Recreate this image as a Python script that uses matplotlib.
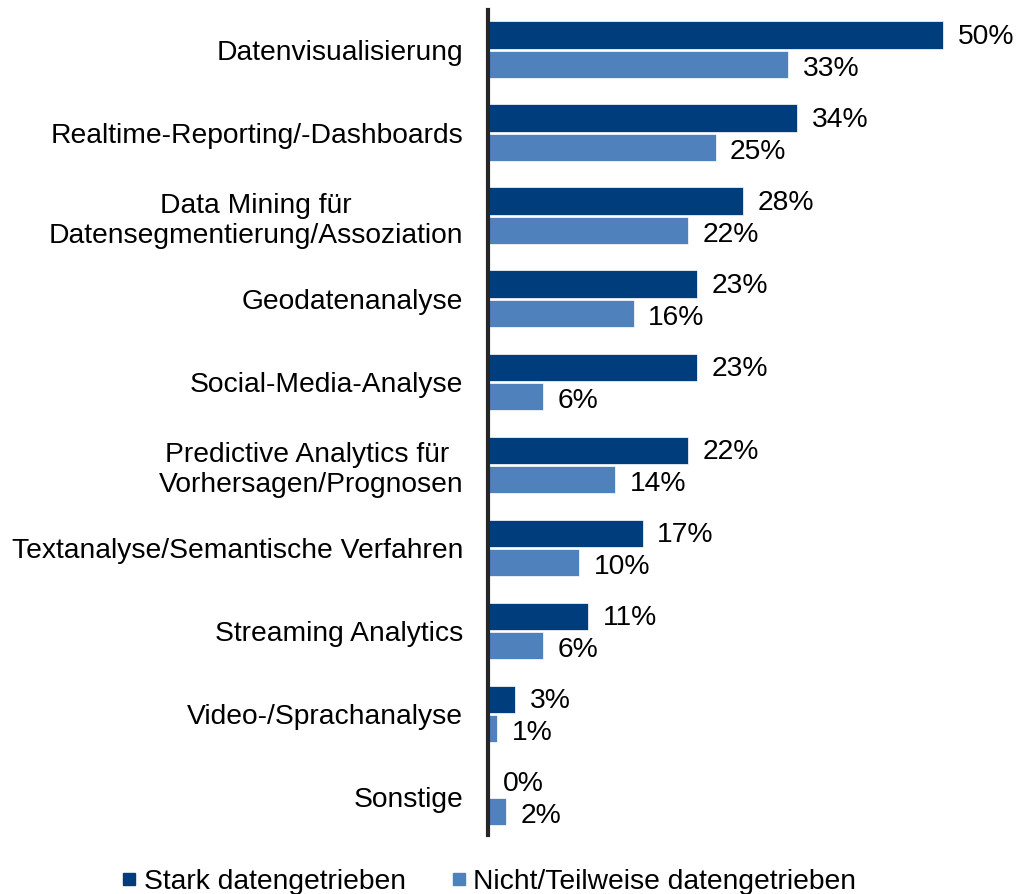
#!/usr/bin/env python3
"""
Analytics-Methoden: stark vs. nicht/teilweise datengetriebene Unternehmen
"""

import matplotlib
matplotlib.use('Agg')
import matplotlib.pyplot as plt
from matplotlib.lines import Line2D
import numpy as np

plt.rcParams['font.family'] = ['Liberation Sans', 'DejaVu Sans']

# Daten
kategorien = [
    'Datenvisualisierung',
    'Realtime-Reporting/-Dashboards',
    'Data Mining für\nDatensegmentierung/Assoziation',
    'Geodatenanalyse',
    'Social-Media-Analyse',
    'Predictive Analytics für \nVorhersagen/Prognosen',
    'Textanalyse/Semantische Verfahren',
    'Streaming Analytics',
    'Video-/Sprachanalyse',
    'Sonstige',
]
stark = [50, 34, 28, 23, 23, 22, 17, 11, 3, 0]
nicht_teilweise = [33, 25, 22, 16, 6, 14, 10, 6, 1, 2]
serien_namen = ['Stark datengetrieben', 'Nicht/Teilweise datengetrieben']

farbe_stark = '#003d7c'
farbe_nicht = '#4f81bd'

fig = plt.figure(figsize=(10.21, 8.94), dpi=100)
ax = fig.add_axes([0.478, 0.066, 0.517, 0.923])

y = np.arange(len(kategorien))
h = 0.33
off = 0.175

ax.barh(y - off, stark, height=h, color=farbe_stark, edgecolor='white', linewidth=0.5)
ax.barh(y + off, nicht_teilweise, height=h, color=farbe_nicht, edgecolor='white', linewidth=0.5)

fs = 20.3
for i, (a, b) in enumerate(zip(stark, nicht_teilweise)):
    ax.text(a + 1.6, i - off + 0.02, f'{a}%', va='center', ha='left', fontsize=fs)
    ax.text(b + 1.6, i + off + 0.06, f'{b}%', va='center', ha='left', fontsize=fs)

ax.set_xlim(0, 58)
ax.set_ylim(9.46, -0.48)
ax.set_yticks(y)
ax.set_yticklabels(kategorien, fontsize=fs, multialignment='center')
ax.tick_params(axis='y', length=0, pad=18)
ax.set_xticks([])

for s in ['top', 'right', 'bottom']:
    ax.spines[s].set_visible(False)
ax.spines['left'].set_linewidth(3)
ax.spines['left'].set_color('#262626')

handles = [
    Line2D([], [], marker='s', linestyle='none', markersize=8, color=farbe_stark),
    Line2D([], [], marker='s', linestyle='none', markersize=8, color=farbe_nicht),
]
fig.legend(handles, serien_namen, loc='lower left', bbox_to_anchor=(0.095, -0.029),
           ncol=2, frameon=False, fontsize=fs, handlelength=0.5, handletextpad=0.25,
           columnspacing=1.65)

plt.savefig('out.png', dpi=100)
plt.close()
